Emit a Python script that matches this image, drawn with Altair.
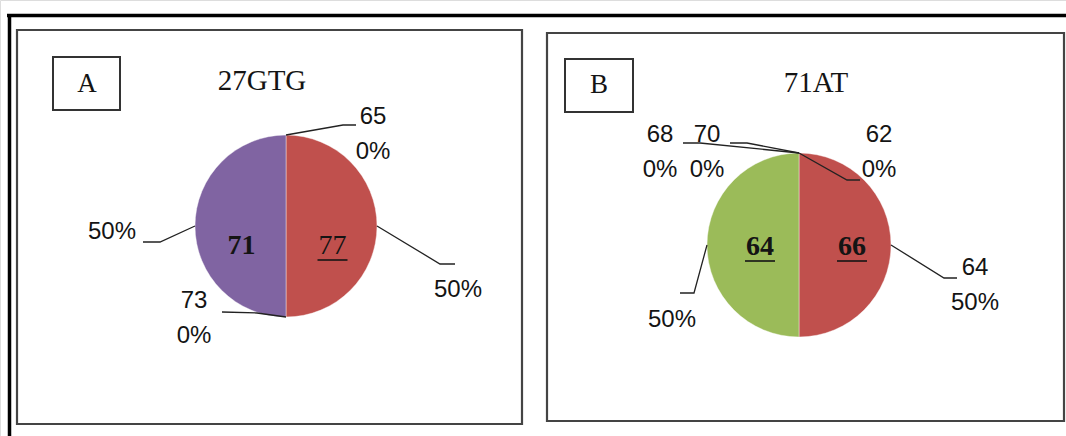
import altair as alt
import pandas as pd
import numpy as np

W, H = 1066, 436

# ---------------- data ----------------
a_tag = "A"
a_title = "27GTG"
a_categories = ["65", "77", "73", "71"]          # clockwise from 12 o'clock
a_values = [0, 1, 0, 1]
a_show_name = [True, False, True, False]
a_inner = ["", "77", "", "71"]
a_inner_bold = [False, False, False, True]
a_inner_underline = [False, True, False, False]

b_tag = "B"
b_title = "71AT"
b_categories = ["62", "64", "66", "68", "70"]    # clockwise from 12 o'clock
b_values = [0, 1, 1, 0, 0]
b_show_name = [True, True, False, True, True]
b_inner = ["", "66", "64", "", ""]
b_inner_bold = [False, True, True, False, False]
b_inner_underline = [False, True, True, False, False]

# ---------------- styles ----------------
RED, PURPLE, GREEN = "#C0504D", "#8064A2", "#9BBB59"
a_colors = {"77": RED, "71": PURPLE}
b_colors = {"64": RED, "66": GREEN}
TXT = "#141414"
SANS = "Liberation Sans"
SERIF = "Liberation Serif"

# ---------------- layout (pixel positions of annotations) ----------------
LAYOUT = {
    "A": dict(center=(286, 226), r=91, box=(17, 30, 522, 424),
              tag_box=(53, 57, 120, 110), tag_xy=(87, 84), title_xy=(262, 81),
              inner_off=(1, 20),
              labels=[((373, 117), (343, 125), (356, 125)),
                      ((458, 290), (440, 264), (455, 264)),
                      ((194, 301), (257, 313), (222, 312)),
                      ((112, 232), (160, 242), (143, 242))]),
    "B": dict(center=(799, 245), r=92, box=(547, 33, 1064, 421),
              tag_box=(565, 59, 633, 112), tag_xy=(599, 85), title_xy=(816, 83),
              inner_off=(7, 2),
              labels=[((879, 135), (847, 180), (860, 180)),
                      ((975, 268), (944, 278), (957, 278)),
                      ((672, 320), (694, 293), (680, 293)),
                      ((660, 135), (700, 143), (683, 143)),
                      ((707, 135), (747, 143), (730, 143))]),
}
LINE_H = 35

XS = alt.Scale(domain=[0, W], range=[0, W])
YS = alt.Scale(domain=[0, H], range=[0, H])


def X(f):
    return alt.X(f, type="quantitative", scale=XS, axis=None)


def Y(f):
    return alt.Y(f, type="quantitative", scale=YS, axis=None)


panels = [
    ("A", a_tag, a_title, a_categories, a_values, a_show_name, a_inner, a_inner_bold, a_inner_underline, a_colors),
    ("B", b_tag, b_title, b_categories, b_values, b_show_name, b_inner, b_inner_bold, b_inner_underline, b_colors),
]

layers = []
boxes, rules, leaders = [], [], []
sans_rows, serif_title_rows, tag_rows, inner_bold_rows, inner_reg_rows = [], [], [], [], []
lid = 0
for key, tag, title, cats, vals, show, inner, ibold, iund, cmap in panels:
    L = LAYOUT[key]
    cx, cy = L["center"]
    r = L["r"]
    boxes.append(dict(x=L["box"][0], y=L["box"][1], x2=L["box"][2], y2=L["box"][3], kind="panel"))
    boxes.append(dict(x=L["tag_box"][0], y=L["tag_box"][1], x2=L["tag_box"][2], y2=L["tag_box"][3], kind="tag"))
    tag_rows.append(dict(x=L["tag_xy"][0], y=L["tag_xy"][1], text=tag))
    serif_title_rows.append(dict(x=L["title_xy"][0], y=L["title_xy"][1], text=title))

    total = float(sum(vals))
    acc = 0.0
    for i, (c, v) in enumerate(zip(cats, vals)):
        a0 = acc / total * 2 * np.pi
        acc += v
        a1 = acc / total * 2 * np.pi
        mid = (a0 + a1) / 2
        share = v / total
        # leader line
        sx, sy = cx + r * np.sin(mid), cy - r * np.cos(mid)
        (lx, ly), (ex, ey), (tx, ty) = L["labels"][i]
        for s, (px, py) in enumerate([(sx, sy), (ex, ey), (tx, ty)]):
            leaders.append(dict(id=lid, seq=s, x=px, y=py))
        lid += 1
        # outside label
        lines = ([c] if show[i] else []) + [f"{round(share * 100)}%"]
        for j, t in enumerate(lines):
            sans_rows.append(dict(x=lx, y=ly + j * LINE_H, text=t))
        # inner label
        if inner[i]:
            ix = cx + 0.5 * r * np.sin(mid) + L["inner_off"][0]
            iy = cy - 0.5 * r * np.cos(mid) + L["inner_off"][1]
            (inner_bold_rows if ibold[i] else inner_reg_rows).append(dict(x=ix, y=iy, text=inner[i]))
            if iund[i]:
                rules.append(dict(x=ix - 15, x2=ix + 15, y=iy + 14, y2=iy + 14, kind="under"))

    df = pd.DataFrame(dict(cat=cats, value=vals, idx=list(range(len(cats)))))
    dom = list(cmap.keys())
    arc = alt.Chart(df).transform_filter("datum.value > 0").mark_arc(
        radius=r, stroke="#ffffff", strokeWidth=0.8, strokeOpacity=0.5
    ).encode(
        theta=alt.Theta("value:Q", stack=True),
        color=alt.Color("cat:N", scale=alt.Scale(domain=dom, range=[cmap[d] for d in dom]), legend=None),
        order=alt.Order("idx:Q"),
        x=alt.value(cx),
        y=alt.value(cy),
    )
    layers.append(arc)

# outer frame
rules.append(dict(x=7, x2=W, y=15.5, y2=15.5, kind="frame"))
rules.append(dict(x=9.5, x2=9.5, y=14, y2=H, kind="frame"))

box_df = pd.DataFrame(boxes)
panel_boxes = alt.Chart(box_df[box_df.kind == "panel"]).mark_rect(
    fillOpacity=0, stroke="#444444", strokeWidth=2.2
).encode(x=X("x"), x2="x2", y=Y("y"), y2="y2")
tag_boxes = alt.Chart(box_df[box_df.kind == "tag"]).mark_rect(
    fillOpacity=0, stroke="#333333", strokeWidth=2
).encode(x=X("x"), x2="x2", y=Y("y"), y2="y2")

rule_df = pd.DataFrame(rules)
frame = alt.Chart(rule_df[rule_df.kind == "frame"]).mark_rule(
    color="#000000", strokeWidth=3.5
).encode(x=X("x"), x2="x2", y=Y("y"), y2="y2")
under = alt.Chart(rule_df[rule_df.kind == "under"]).mark_rule(
    color=TXT, strokeWidth=1.6
).encode(x=X("x"), x2="x2", y=Y("y"), y2="y2")

lead = alt.Chart(pd.DataFrame(leaders)).mark_line(
    color="#222222", strokeWidth=1.3
).encode(x=X("x"), y=Y("y"), detail="id:N", order="seq:Q")


def text_layer(rows, font, size, weight="normal"):
    return alt.Chart(pd.DataFrame(rows)).mark_text(
        font=font, fontSize=size, fontWeight=weight, color=TXT, align="center", baseline="middle"
    ).encode(x=X("x"), y=Y("y"), text="text:N")


texts = [
    text_layer(sans_rows, SANS, 24),
    text_layer(serif_title_rows, SERIF, 29),
    text_layer(tag_rows, SERIF, 27),
    text_layer(inner_bold_rows, SERIF, 28, "bold"),
    text_layer(inner_reg_rows, SERIF, 28),
]

chart = alt.layer(
    panel_boxes, tag_boxes, frame, *layers, lead, under, *texts
).resolve_scale(
    theta="independent", color="independent"
).properties(
    width=W, height=H, autosize=alt.AutoSizeParams(type="none"), padding=0
).configure_view(stroke=None).configure(background="white")

chart.save("out.html", embed_options={"renderer": "svg", "actions": False})
